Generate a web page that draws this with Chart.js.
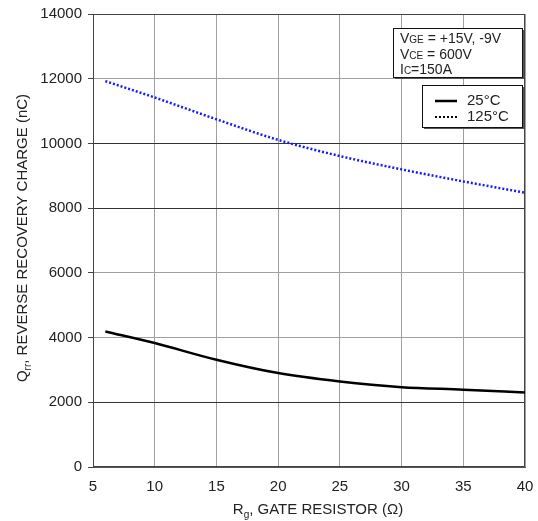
<!DOCTYPE html>
<html>
<head>
<meta charset="utf-8">
<script src="https://cdn.jsdelivr.net/npm/chart.js@4"></script>
<style>
  html, body { margin: 0; padding: 0; background: #fff; }
  #wrap { width: 538px; height: 521px; }
</style>
</head>
<body>
<div id="wrap"><canvas id="qrr" width="538" height="521"></canvas></div>
<script>
const rg = [6, 10, 15, 20, 25, 30, 35, 40];
const qrr25 = [4190, 3830, 3314, 2902, 2642, 2468, 2390, 2300];
const qrr125 = [11925, 11420, 10746, 10110, 9610, 9198, 8826, 8476];
const seriesLabels = ["25°C", "125°C"];
const darkGrid = [2000, 8000, 10000];

const FONT = "'Liberation Sans', Arial, sans-serif";
const TEXT = "#222";

function pts(ys) {
  return rg.map((x, i) => ({ x, y: ys[i] }));
}

// draws a run of text pieces, some of them smaller/lowered (subscripts)
function drawParts(ctx, parts, x, y, align) {
  let total = 0;
  parts.forEach((p) => {
    ctx.font = p.size + "px " + FONT;
    p.w = ctx.measureText(p.t).width;
    total += p.w;
  });
  let cx = align === "center" ? x - total / 2 : x;
  ctx.textAlign = "left";
  ctx.textBaseline = "alphabetic";
  parts.forEach((p) => {
    ctx.font = p.size + "px " + FONT;
    ctx.fillText(p.t, cx, y + (p.dy || 0));
    cx += p.w;
  });
}

function shadowBox(ctx, x1, y1, x2, y2) {
  ctx.fillStyle = "#555";
  ctx.fillRect(x1 + 2, y1 + 2, x2 - x1, y2 - y1);
  ctx.fillStyle = "#fff";
  ctx.fillRect(x1, y1, x2 - x1, y2 - y1);
  ctx.strokeStyle = "#111";
  ctx.lineWidth = 1;
  ctx.strokeRect(x1 + 0.5, y1 + 0.5, x2 - x1, y2 - y1);
}

const frame = {
  id: "frame",
  beforeDatasetsDraw(chart) {
    const a = chart.chartArea;
    const ctx = chart.ctx;
    ctx.save();
    ctx.strokeStyle = "#444";
    ctx.lineWidth = 1;
    ctx.strokeRect(Math.round(a.left) + 0.5, Math.round(a.top) + 0.5,
      Math.round(a.right - a.left) - 1, Math.round(a.bottom - a.top) - 1);
    ctx.restore();
  },
  afterDraw(chart) {
    const ctx = chart.ctx;
    ctx.save();
    ctx.fillStyle = TEXT;

    // axis titles
    drawParts(ctx, [
      { t: "R", size: 15 },
      { t: "g", size: 10, dy: 4 },
      { t: ", GATE RESISTOR (Ω)", size: 15 },
    ], 318, 514, "center");

    ctx.save();
    ctx.translate(27, 238);
    ctx.rotate(-Math.PI / 2);
    ctx.fillStyle = TEXT;
    drawParts(ctx, [
      { t: "Q", size: 15 },
      { t: "rr", size: 10, dy: 4 },
      { t: ", REVERSE RECOVERY CHARGE (nC)", size: 15 },
    ], 0, 0, "center");
    ctx.restore();

    // conditions box
    shadowBox(ctx, 393, 28, 522, 77);
    ctx.fillStyle = TEXT;
    drawParts(ctx, [{ t: "V", size: 14 }, { t: "GE", size: 10 }, { t: " = +15V, -9V", size: 14 }], 400, 43, "left");
    drawParts(ctx, [{ t: "V", size: 14 }, { t: "CE", size: 10 }, { t: " = 600V", size: 14 }], 400, 59, "left");
    drawParts(ctx, [{ t: "I", size: 14 }, { t: "C", size: 10 }, { t: "=150A", size: 14 }], 400, 74, "left");

    // legend box
    shadowBox(ctx, 422, 85, 522, 127);
    const rows = [101, 117];
    chart.data.datasets.forEach((ds, i) => {
      const y = rows[i];
      ctx.strokeStyle = "#000";
      ctx.lineWidth = i === 0 ? 2.5 : 2;
      ctx.setLineDash(i === 0 ? [] : [2, 2]);
      ctx.beginPath();
      ctx.moveTo(435, y);
      ctx.lineTo(457, y);
      ctx.stroke();
      ctx.setLineDash([]);
      ctx.fillStyle = TEXT;
      ctx.font = "15px " + FONT;
      ctx.textBaseline = "middle";
      ctx.textAlign = "left";
      ctx.fillText(ds.label, 467, y);
    });
    ctx.restore();
  },
};

new Chart(document.getElementById("qrr"), {
  type: "line",
  data: {
    datasets: [
      {
        label: seriesLabels[0],
        data: pts(qrr25),
        borderColor: "#000",
        borderWidth: 2.5,
        pointRadius: 0,
        cubicInterpolationMode: "monotone",
      },
      {
        label: seriesLabels[1],
        data: pts(qrr125),
        borderColor: "#1a1aff",
        borderWidth: 2.5,
        borderDash: [2, 2],
        pointRadius: 0,
        cubicInterpolationMode: "monotone",
      },
    ],
  },
  options: {
    responsive: false,
    animation: false,
    devicePixelRatio: 1,
    layout: { padding: { top: 14, right: 13, left: 0, bottom: 0 } },
    plugins: { legend: { display: false }, tooltip: { enabled: false } },
    scales: {
      x: {
        type: "linear",
        min: 5,
        max: 40,
        ticks: { stepSize: 5, color: TEXT, font: { size: 15, family: FONT }, padding: 11 },
        grid: { color: "#a0a0a0", drawTicks: false },
        border: { color: "#555" },
        afterFit: (s) => { s.height = 54; s.paddingLeft = 0; s.paddingRight = 0; },
      },
      y: {
        min: 0,
        max: 14000,
        ticks: {
          stepSize: 2000, color: TEXT, font: { size: 15, family: FONT }, padding: 6,
          callback: (v) => String(v),
        },
        grid: {
          color: (c) => (darkGrid.includes(c.tick && c.tick.value) ? "#333" : "#a0a0a0"),
          tickColor: "#444",
          tickLength: 5,
        },
        border: { color: "#444" },
        afterFit: (s) => { s.width = 93; s.paddingTop = 0; s.paddingBottom = 0; },
      },
    },
  },
  plugins: [frame],
});
</script>
</body>
</html>
